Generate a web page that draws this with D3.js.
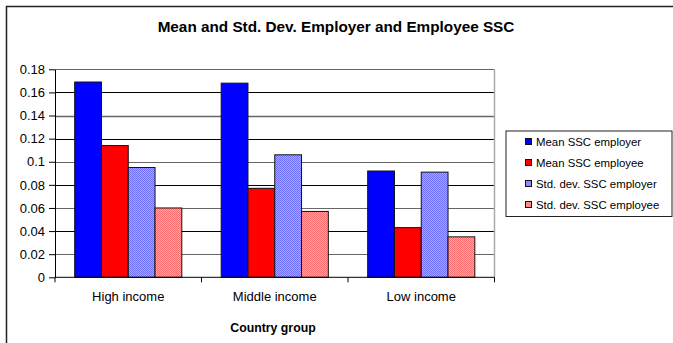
<!DOCTYPE html>
<html><head><meta charset="utf-8">
<script src="https://cdn.jsdelivr.net/npm/d3@7/dist/d3.min.js"></script>
<style>body{margin:0;background:#fff}svg{display:block;font-family:"Liberation Sans",Arial,sans-serif}</style>
</head><body><svg id="c" width="673" height="343"></svg>
<script>
const categories = ["High income", "Middle income", "Low income"];
const seriesNames = ["Mean SSC employer", "Mean SSC employee", "Std. dev. SSC employer", "Std. dev. SSC employee"];
const meanEmployer = [0.169, 0.168, 0.092];
const meanEmployee = [0.114, 0.077, 0.043];
const sdEmployer = [0.095, 0.106, 0.091];
const sdEmployee = [0.060, 0.057, 0.035];
const yTicks = [0, 0.02, 0.04, 0.06, 0.08, 0.1, 0.12, 0.14, 0.16, 0.18];
const seriesValues = [meanEmployer, meanEmployee, sdEmployer, sdEmployee];

const svg = d3.select("#c");
const defs = svg.append("defs");
function checker(id, a, b) {
  const p = defs.append("pattern").attr("id", id).attr("width", 2).attr("height", 2).attr("patternUnits", "userSpaceOnUse");
  p.append("rect").attr("width", 2).attr("height", 2).attr("fill", a);
  p.append("rect").attr("width", 1).attr("height", 1).attr("fill", b);
  p.append("rect").attr("x", 1).attr("y", 1).attr("width", 1).attr("height", 1).attr("fill", b);
}
checker("pLav", "#a8a8ff", "#7070ff");
checker("pPink", "#ffa8a8", "#ff6e6e");
const fills = ["#0000ff", "#ff0000", "url(#pLav)", "url(#pPink)"];
const swatchFills = ["#0000ff", "#ff0000", "#8c8cff", "#ff8c8c"];

// outer border
svg.append("rect").attr("x", 6.5).attr("y", 6.5).attr("width", 680).attr("height", 350)
  .attr("fill", "none").attr("stroke", "#222").attr("stroke-width", 1.5);

const L = 55, R = 494.5, T = 69.3, B = 277.3;
const x0 = d3.scaleBand().domain(categories).range([L, R]).paddingInner(0).paddingOuter(0);
const y = d3.scaleLinear().domain([0, 0.18]).range([B, T]);
const inner = d3.scaleBand().domain(d3.range(4)).range([0, x0.bandwidth()]).paddingOuter(0.735).paddingInner(0);

// title
svg.append("text").attr("x", 336).attr("y", 32).attr("text-anchor", "middle")
  .attr("font-weight", "bold").attr("font-size", 15.3).text("Mean and Std. Dev. Employer and Employee SSC");

// gridlines
svg.append("g").selectAll("line").data(yTicks.filter(d => d > 0)).join("line")
  .attr("x1", L).attr("x2", R).attr("y1", d => Math.round(y(d)) + 0.5).attr("y2", d => Math.round(y(d)) + 0.5)
  .attr("stroke", (d, i) => (i % 2 === 0) ? "#666" : "#000")
  .attr("stroke-width", d => d === 0.14 ? 1.6 : 1);
// right border of plot
svg.append("line").attr("x1", R).attr("x2", R).attr("y1", T).attr("y2", B).attr("stroke", "#aaa").attr("stroke-width", 1.5);

// bars
const g = svg.append("g");
seriesValues.forEach((vals, si) => {
  g.append("g").selectAll("rect").data(vals).join("rect")
    .attr("x", (d, i) => x0(categories[i]) + inner(si))
    .attr("y", d => y(d))
    .attr("width", inner.bandwidth())
    .attr("height", d => B - y(d))
    .attr("fill", fills[si]).attr("stroke", "#111").attr("stroke-width", 1);
});

// y axis
const yAxis = d3.axisLeft(y).tickValues(yTicks).tickSize(6).tickSizeOuter(0).tickFormat(d => d3.format("")(+d.toFixed(2)));
const ya = svg.append("g").attr("transform", `translate(${L},0)`).call(yAxis);
ya.selectAll("text").attr("font-size", 13).attr("font-family", "Liberation Sans, Arial, sans-serif").attr("fill", "#000").attr("dx", "-1");
ya.selectAll("line,path").attr("stroke", "#000");

// x axis with ticks at boundaries
const xa = svg.append("g").attr("transform", `translate(0,${B})`);
xa.append("line").attr("x1", L).attr("x2", R).attr("stroke", "#000");
xa.selectAll(".tk").data([...categories.map(c => x0(c)), R]).join("line")
  .attr("x1", d => d).attr("x2", d => d).attr("y1", 0).attr("y2", 5).attr("stroke", "#000");
xa.selectAll("text").data(categories).join("text")
  .attr("x", d => x0(d) + x0.bandwidth() / 2).attr("y", 24).attr("text-anchor", "middle")
  .attr("font-size", 13).text(d => d);

// x axis title
svg.append("text").attr("x", 273).attr("y", 332).attr("text-anchor", "middle")
  .attr("font-weight", "bold").attr("font-size", 12.3).text("Country group");

// legend
const lg = svg.append("g");
lg.append("rect").attr("x", 506).attr("y", 131).attr("width", 166).attr("height", 85.5)
  .attr("fill", "#fff").attr("stroke", "#222").attr("stroke-width", 1);
seriesNames.forEach((n, i) => {
  const cy = 141.5 + i * 21;
  lg.append("rect").attr("x", 525.5).attr("y", cy - 3).attr("width", 6).attr("height", 6)
    .attr("fill", swatchFills[i]).attr("stroke", "#111");
  lg.append("text").attr("x", 536).attr("y", cy + 4).attr("font-size", 11.4).text(n);
});
</script></body></html>
